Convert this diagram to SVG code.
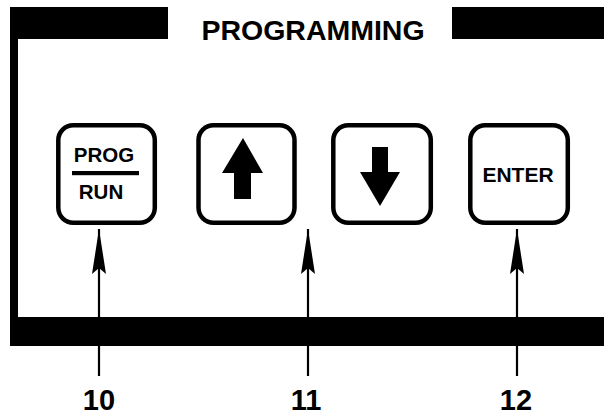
<svg xmlns="http://www.w3.org/2000/svg" width="604" height="415" viewBox="0 0 604 415">
<defs>
<style>
.key{fill:#fff;stroke:#000;stroke-width:4.5}
.t{font-family:"Liberation Sans",Arial,sans-serif;font-weight:bold;fill:#000}
.conn{stroke:#000;stroke-width:2.2;fill:none}
</style>
<marker id="ah" markerUnits="userSpaceOnUse" markerWidth="46" markerHeight="16" refX="45" refY="8" orient="auto" viewBox="0 0 46 16">
<path d="M45,8 L0,1 L6,8 L0,15 Z" fill="#000"/>
</marker>
</defs>
<rect width="604" height="415" fill="#fff"/>
<g id="frame">
<rect x="10" y="7" width="158" height="32" fill="#000"/>
<rect x="452" y="7" width="152" height="32" fill="#000"/>
<rect x="10" y="7" width="8" height="339" fill="#000"/>
<rect x="10" y="317" width="594" height="29" fill="#000"/>
<text class="t" x="313" y="40" font-size="28.5" text-anchor="middle">PROGRAMMING</text>
</g>
<g id="connectors">
<path class="conn" d="M99,376 V229" marker-end="url(#ah)"/>
<path class="conn" d="M308,376 V229" marker-end="url(#ah)"/>
<path class="conn" d="M517,376 V229" marker-end="url(#ah)"/>
</g>
<g id="key-prog">
<rect class="key" x="58.3" y="125.3" width="96.5" height="97.5" rx="15"/>
<text class="t" x="104" y="162" font-size="20.5" text-anchor="middle">PROG</text>
<rect x="72" y="171" width="67" height="4.2" fill="#000"/>
<text class="t" x="101" y="199" font-size="20.5" text-anchor="middle">RUN</text>
</g>
<g id="key-up">
<rect class="key" x="198.5" y="125.3" width="96" height="97.5" rx="15"/>
<path d="M243,138 L263,173 L251,173 L251,199 L234,199 L234,173 L222,173 Z" fill="#000"/>
</g>
<g id="key-down">
<rect class="key" x="333.3" y="125.3" width="97.5" height="97.5" rx="15"/>
<path d="M372,147 L388,147 L388,172 L400,172 L380,206 L360,172 L372,172 Z" fill="#000"/>
</g>
<g id="key-enter">
<rect class="key" x="470.3" y="125.3" width="97.5" height="97.5" rx="15"/>
<text class="t" x="518" y="182" font-size="21" text-anchor="middle">ENTER</text>
</g>
<g id="labels">
<text class="t" x="99" y="410" font-size="29" text-anchor="middle">10</text>
<text class="t" x="306" y="410" font-size="29" text-anchor="middle">11</text>
<text class="t" x="516" y="410" font-size="29" text-anchor="middle">12</text>
</g>
</svg>
